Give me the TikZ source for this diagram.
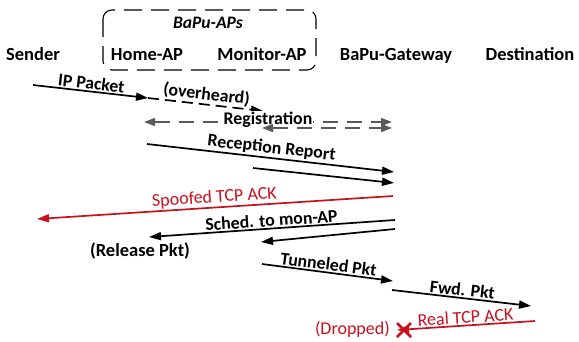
\documentclass[tikz,border=0pt]{standalone}
\usepackage{fontspec}
\setmainfont{Carlito}
\usetikzlibrary{arrows.meta}
\definecolor{ackred}{RGB}{200,16,30}
\definecolor{reggray}{RGB}{90,90,90}
\tikzset{
  head/.style={font=\fontsize{18.5}{20}\selectfont\bfseries, inner sep=0pt, anchor=base},
  msg/.style={line width=1.7pt, -{Triangle[length=12pt,width=8pt]}},
  lbl/.style={font=\fontsize{17.8}{20}\selectfont\bfseries, sloped, above, midway, inner sep=1.2pt},
  redlbl/.style={font=\fontsize{18}{20}\selectfont, text=ackred, sloped, above, midway, inner sep=1.2pt},
  regline/.style={reggray, line width=1.6pt, dash pattern=on 15pt off 9pt, {Triangle[length=11pt,width=8pt]}-{Triangle[length=11pt,width=8pt]}},
}
\begin{document}
\begin{tikzpicture}[x=1pt,y=-1pt]
\useasboundingbox (0,0) rectangle (579,341);
% group box
\draw[line width=1.1pt, dash pattern=on 18pt off 9pt, rounded corners=9pt] (103,10) rectangle (316,70);
\node[font=\fontsize{17.5}{20}\selectfont\bfseries\itshape, inner sep=0pt] (aps) at (208,23) {BaPu-APs};
% column heads
\node[head] (snd) at (33,60) {Sender};
\node[head] (home) at (147,60) {Home-AP};
\node[head] (mon) at (262,60) {Monitor-AP};
\node[head] (gw) at (396,60) {BaPu-Gateway};
\node[head] (dst) at (530,60) {Destination};
% coordinates
\coordinate (p1) at (33,85);
\coordinate (p2) at (148,98);
\coordinate (p3) at (263,111);
\coordinate (r1) at (144,122);
\coordinate (r2) at (392,122);
\coordinate (r3) at (262,128);
\coordinate (r4) at (392,128);
\coordinate (c1) at (147,144);
\coordinate (c2) at (394,172);
\coordinate (c3) at (253,168);
\coordinate (c4) at (394,183);
\coordinate (s1) at (393,196);
\coordinate (s2) at (37,219);
\coordinate (h1) at (395,220);
\coordinate (h2) at (149,237);
\coordinate (h3) at (395,229);
\coordinate (h4) at (261,242);
\coordinate (t1) at (262,264);
\coordinate (t2) at (393,281);
\coordinate (f1) at (392,290);
\coordinate (f2) at (531,306);
\coordinate (k1) at (535,321);
\coordinate (k2) at (397,330);
\coordinate (xc) at (404,330);
% messages
\draw[msg] (p1) -- node[lbl] {IP Packet} (p2);
\draw[msg, dash pattern=on 11pt off 6pt] (p2) -- node[lbl] {(overheard)} (p3);
\draw[regline] (r1) -- (r2);
\node[font=\fontsize{17.8}{20}\selectfont\bfseries, fill=white, inner sep=1pt] (reg) at (268,120) {Registration};
\draw[regline] (r3) -- (r4);
\draw[msg] (c1) -- node[lbl] {Reception Report} (c2);
\draw[msg] (c3) -- (c4);
\draw[msg, ackred] (s1) -- node[redlbl] {Spoofed TCP ACK} (s2);
\draw[msg] (h1) -- node[lbl] {Sched. to mon-AP} (h2);
\draw[msg] (h3) -- (h4);
\node[head, anchor=center] (rel) at (140,251) {(Release Pkt)};
\draw[msg] (t1) -- node[lbl] {Tunneled Pkt} (t2);
\draw[msg] (f1) -- node[lbl] {Fwd. Pkt} (f2);
\draw[msg, ackred] (k1) -- node[redlbl] {Real TCP ACK} (k2);
\draw[ackred, line width=2.6pt] (xc) ++(-7,-7) -- ++(14,14) ++(0,-14) -- ++(-14,14);
\node[font=\fontsize{18}{20}\selectfont, text=ackred, anchor=east, inner sep=0pt] (drop) at (390,329) {(Dropped)};
\end{tikzpicture}
\end{document}
